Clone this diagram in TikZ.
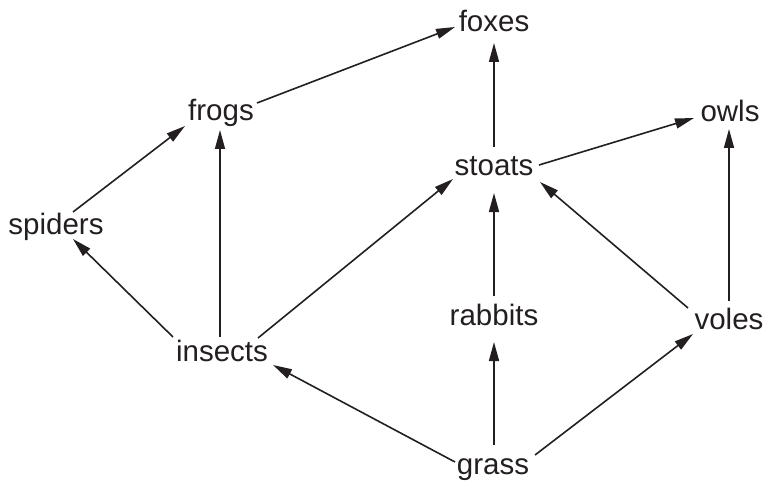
\documentclass[tikz,border=0pt]{standalone}
\usepackage{fontspec}
\setmainfont{Liberation Sans}
\usetikzlibrary{arrows.meta}
\definecolor{ink}{HTML}{231F20}
\tikzset{
  lbl/.style={anchor=base, inner sep=0pt, text=ink, font=\fontsize{29.5}{32}\selectfont},
  link/.style={draw=ink, line width=1.6pt, -{Triangle[length=19pt,width=10pt]}}
}
\begin{document}
\begin{tikzpicture}[x=1pt,y=-1pt]
\useasboundingbox (0,0) rectangle (765,481);
\node[lbl] (foxes)   at (494,32)  {foxes};
\node[lbl] (frogs)   at (221,121) {frogs};
\node[lbl] (owls)    at (730,122) {owls};
\node[lbl] (stoats)  at (494,176) {stoats};
\node[lbl] (spiders) at (56,234)  {spiders};
\node[lbl] (rabbits) at (494,325) {rabbits};
\node[lbl] (voles)   at (729,329) {voles};
\node[lbl] (insects) at (222,361) {insects};
\node[lbl] (grass)   at (493,474) {grass};

\draw[link] ([shift={(36,-18)}]frogs.base) -- ([shift={(-39,-5)}]foxes.base);
\draw[link] ([shift={(0,-29)}]stoats.base) -- ([shift={(0,11)}]foxes.base);
\draw[link] ([shift={(45,-11)}]stoats.base) -- ([shift={(-36,-4)}]owls.base);
\draw[link] ([shift={(-41,-21)}]voles.base) -- ([shift={(46,6)}]stoats.base);
\draw[link] ([shift={(0,-28)}]voles.base) -- ([shift={(-1,7)}]owls.base);
\draw[link] ([shift={(17,-22)}]spiders.base) -- ([shift={(-36,5)}]frogs.base);
\draw[link] ([shift={(-2,-24)}]insects.base) -- ([shift={(-1,9)}]frogs.base);
\draw[link] ([shift={(-49,-24)}]insects.base) -- ([shift={(17,5)}]spiders.base);
\draw[link] ([shift={(36,-23)}]insects.base) -- ([shift={(-41,3)}]stoats.base);
\draw[link] ([shift={(0,-29)}]rabbits.base) -- ([shift={(0,17)}]stoats.base);
\draw[link] ([shift={(1,-29)}]grass.base) -- ([shift={(0,17)}]rabbits.base);
\draw[link] ([shift={(-38,-12)}]grass.base) -- ([shift={(51,4)}]insects.base);
\draw[link] ([shift={(42,-19)}]grass.base) -- ([shift={(-36,5)}]voles.base);
\end{tikzpicture}
\end{document}
